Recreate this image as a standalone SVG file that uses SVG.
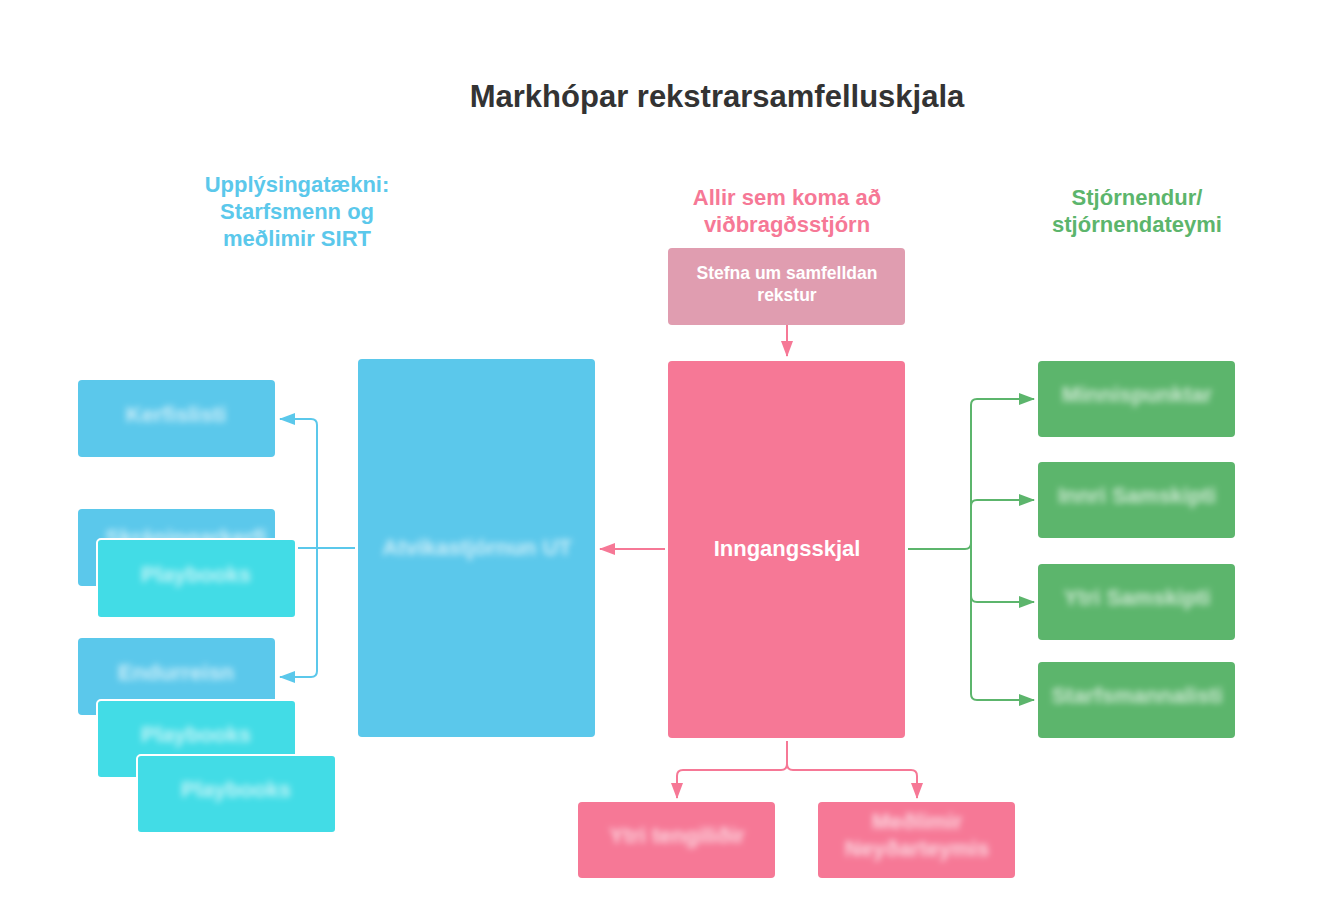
<svg xmlns="http://www.w3.org/2000/svg" width="1333" height="920" viewBox="0 0 1333 920">
<style>
text{font-family:"Liberation Sans",Arial,sans-serif;font-weight:bold;text-anchor:middle}
.title{font-size:31px;fill:#333333}
.hb{font-size:22px;fill:#5BC8EB}
.hp{font-size:22px;fill:#F67896}
.hg{font-size:22px;fill:#5CB56C}
.blue{fill:#5BC8EB}
.cyan{fill:#42DCE6;stroke:#ffffff;stroke-width:2}
.green{fill:#5CB56C}
.pink{fill:#F67896}
.pale{fill:#E09DB0}
.lbl{font-size:17.5px;fill:#ffffff}
.main{font-size:22px;fill:#ffffff}
.blur{font-size:22px;fill:#ffffff;fill-opacity:0.7;filter:url(#bl)}
.cb{fill:none;stroke:#5BC8EB;stroke-width:2}
.cg{fill:none;stroke:#5CB56C;stroke-width:2}
.cp{fill:none;stroke:#F67896;stroke-width:2}
</style>
<defs>
<filter id="bl" x="-20%" y="-50%" width="140%" height="200%"><feGaussianBlur stdDeviation="3"/></filter>
<marker id="ab" viewBox="0 0 16 12" refX="15" refY="6" markerWidth="16" markerHeight="12" markerUnits="userSpaceOnUse" orient="auto"><path d="M0,0L16,6L0,12z" fill="#5BC8EB"/></marker>
<marker id="ag" viewBox="0 0 16 12" refX="15" refY="6" markerWidth="16" markerHeight="12" markerUnits="userSpaceOnUse" orient="auto"><path d="M0,0L16,6L0,12z" fill="#5CB56C"/></marker>
<marker id="ap" viewBox="0 0 16 12" refX="15" refY="6" markerWidth="16" markerHeight="12" markerUnits="userSpaceOnUse" orient="auto"><path d="M0,0L16,6L0,12z" fill="#F67896"/></marker>
</defs>
<rect width="1333" height="920" fill="#ffffff"/>
<g id="title"><text class="title" x="717" y="107">Markhópar rekstrarsamfelluskjala</text></g>
<g id="head-it"><text class="hb" x="297" y="192">Upplýsingatækni:</text><text class="hb" x="297" y="219">Starfsmenn og</text><text class="hb" x="297" y="246">meðlimir SIRT</text></g>
<g id="head-all"><text class="hp" x="787" y="205">Allir sem koma að</text><text class="hp" x="787" y="232">viðbragðsstjórn</text></g>
<g id="head-mgmt"><text class="hg" x="1137" y="205">Stjórnendur/</text><text class="hg" x="1137" y="232">stjórnendateymi</text></g>

<g id="connectors">
<path class="cp" d="M787,325V356" marker-end="url(#ap)"/>
<path class="cp" d="M665,549H600" marker-end="url(#ap)"/>
<path class="cb" d="M355,548H298"/>
<path class="cb" d="M317,548V425Q317,419 311,419H280" marker-end="url(#ab)"/>
<path class="cb" d="M317,548V671Q317,677 311,677H280" marker-end="url(#ab)"/>
<path class="cg" d="M908,549H965Q971,549 971,543V405Q971,399 977,399H1034" marker-end="url(#ag)"/>
<path class="cg" d="M971,549V506Q971,500 977,500H1034" marker-end="url(#ag)"/>
<path class="cg" d="M971,549V596Q971,602 977,602H1034" marker-end="url(#ag)"/>
<path class="cg" d="M971,549V694Q971,700 977,700H1034" marker-end="url(#ag)"/>
<path class="cp" d="M787,741V764Q787,770 781,770H683Q677,770 677,776V798" marker-end="url(#ap)"/>
<path class="cp" d="M787,764Q787,770 793,770H911Q917,770 917,776V798" marker-end="url(#ap)"/>
</g>

<g id="stefna"><rect class="pale" x="668" y="248" width="237" height="77" rx="4"/><text class="lbl" x="787" y="279">Stefna um samfelldan</text><text class="lbl" x="787" y="301">rekstur</text></g>
<g id="inngangsskjal"><rect class="pink" x="668" y="361" width="237" height="377" rx="4"/><text class="main" x="787" y="556">Inngangsskjal</text></g>
<g id="atvikastjornun"><rect class="blue" x="358" y="359" width="237" height="378" rx="4"/><text class="blur" x="477" y="555">Atvikastjórnun UT</text></g>

<g id="kerfislisti"><rect class="blue" x="78" y="380" width="197" height="77" rx="4"/><text class="blur" x="176" y="422">Kerfislisti</text></g>
<g id="skraning"><rect class="blue" x="78" y="509" width="197" height="77" rx="4"/><text class="blur" x="186" y="545">Skráningarkerfi</text></g>
<g id="playbook1"><rect class="cyan" x="97" y="539" width="199" height="79" rx="4"/><text class="blur" x="196" y="582">Playbooks</text></g>
<g id="endurreisn"><rect class="blue" x="78" y="638" width="197" height="77" rx="4"/><text class="blur" x="176" y="680">Endurreisn</text></g>
<g id="playbook2"><rect class="cyan" x="97" y="700" width="199" height="78" rx="4"/><text class="blur" x="196" y="742">Playbooks</text></g>
<g id="playbook3"><rect class="cyan" x="137" y="755" width="199" height="78" rx="4"/><text class="blur" x="236" y="797">Playbooks</text></g>

<g id="minnispunktar"><rect class="green" x="1038" y="361" width="197" height="76" rx="4"/><text class="blur" x="1137" y="402">Minnispunktar</text></g>
<g id="innri"><rect class="green" x="1038" y="462" width="197" height="76" rx="4"/><text class="blur" x="1137" y="503">Innri Samskipti</text></g>
<g id="ytri"><rect class="green" x="1038" y="564" width="197" height="76" rx="4"/><text class="blur" x="1137" y="605">Ytri Samskipti</text></g>
<g id="starfsmannalisti"><rect class="green" x="1038" y="662" width="197" height="76" rx="4"/><text class="blur" x="1137" y="703">Starfsmannalisti</text></g>

<g id="ytri-tengilidir"><rect class="pink" x="578" y="802" width="197" height="76" rx="4"/><text class="blur" x="677" y="843">Ytri tengiliðir</text></g>
<g id="medlimir"><rect class="pink" x="818" y="802" width="197" height="76" rx="4"/><text class="blur" x="917" y="829">Meðlimir</text><text class="blur" x="917" y="856">Neyðarteymis</text></g>
</svg>
